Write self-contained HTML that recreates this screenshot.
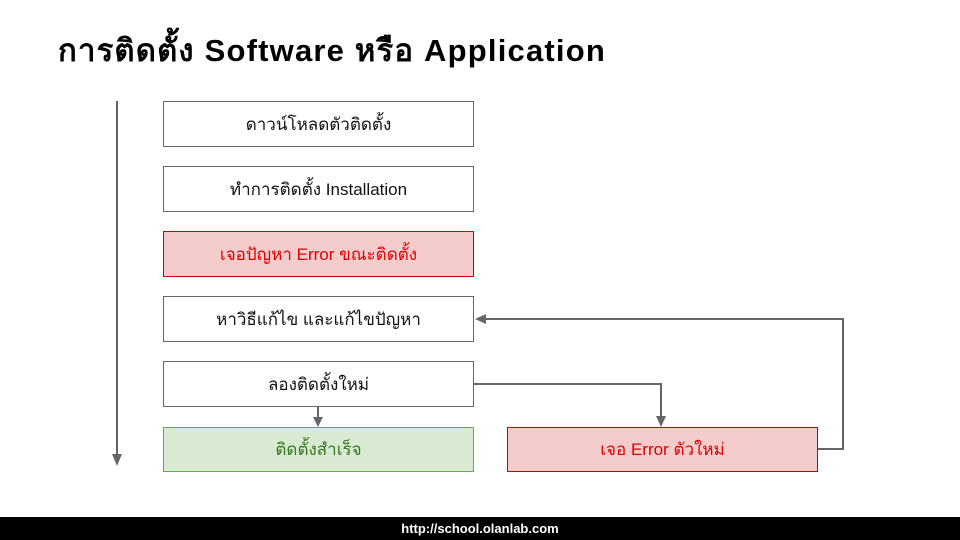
<!DOCTYPE html>
<html><head><meta charset="utf-8"><style>
body{margin:0;width:960px;height:540px;background:#fff;position:relative;overflow:hidden;font-family:"Liberation Sans","DejaVu Sans",sans-serif}
.t{position:absolute;left:58px;top:25px;font-size:31px;font-weight:bold;color:#000;letter-spacing:1.2px}
.b{position:absolute;box-sizing:border-box;border:1px solid #666;background:#fff;display:flex;align-items:center;justify-content:center;font-size:17px;color:#111}
.r{background:#f4cccc;border-color:#cc0000;color:#e00000}
.g{background:#d9ead3;border-color:#6aa84f;color:#38761d}
.f{position:absolute;left:0;top:517px;width:960px;height:23px;background:#000;color:#fff;font-size:13px;text-align:center;line-height:23px;font-weight:bold}
</style></head><body>
<div class="t">การติดตั้ง Software หรือ Application</div>
<div class="b" style="left:163px;top:101px;width:311px;height:46px">ดาวน์โหลดตัวติดตั้ง</div>
<div class="b" style="left:163px;top:166px;width:311px;height:46px">ทำการติดตั้ง Installation</div>
<div class="b r" style="left:163px;top:231px;width:311px;height:46px">เจอปัญหา Error ขณะติดตั้ง</div>
<div class="b" style="left:163px;top:296px;width:311px;height:46px">หาวิธีแก้ไข และแก้ไขปัญหา</div>
<div class="b" style="left:163px;top:361px;width:311px;height:46px">ลองติดตั้งใหม่</div>
<div class="b g" style="left:163px;top:427px;width:311px;height:45px">ติดตั้งสำเร็จ</div>
<div class="b r" style="left:507px;top:427px;width:311px;height:45px">เจอ Error ตัวใหม่</div>
<svg width="960" height="540" style="position:absolute;left:0;top:0" fill="none" stroke="#666" stroke-width="2">
<line x1="117" y1="101" x2="117" y2="455"/><polygon points="112,454 122,454 117,466" fill="#666" stroke="none"/>
<line x1="318" y1="407" x2="318" y2="418"/><polygon points="313,417 323,417 318,427" fill="#666" stroke="none"/>
<polyline points="474,384 661,384 661,417"/><polygon points="656,416 666,416 661,427" fill="#666" stroke="none"/>
<polyline points="818,449 843,449 843,319 485,319"/><polygon points="486,314 486,324 475,319" fill="#666" stroke="none"/>
</svg>
<div class="f">http://school.olanlab.com</div>
</body></html>
